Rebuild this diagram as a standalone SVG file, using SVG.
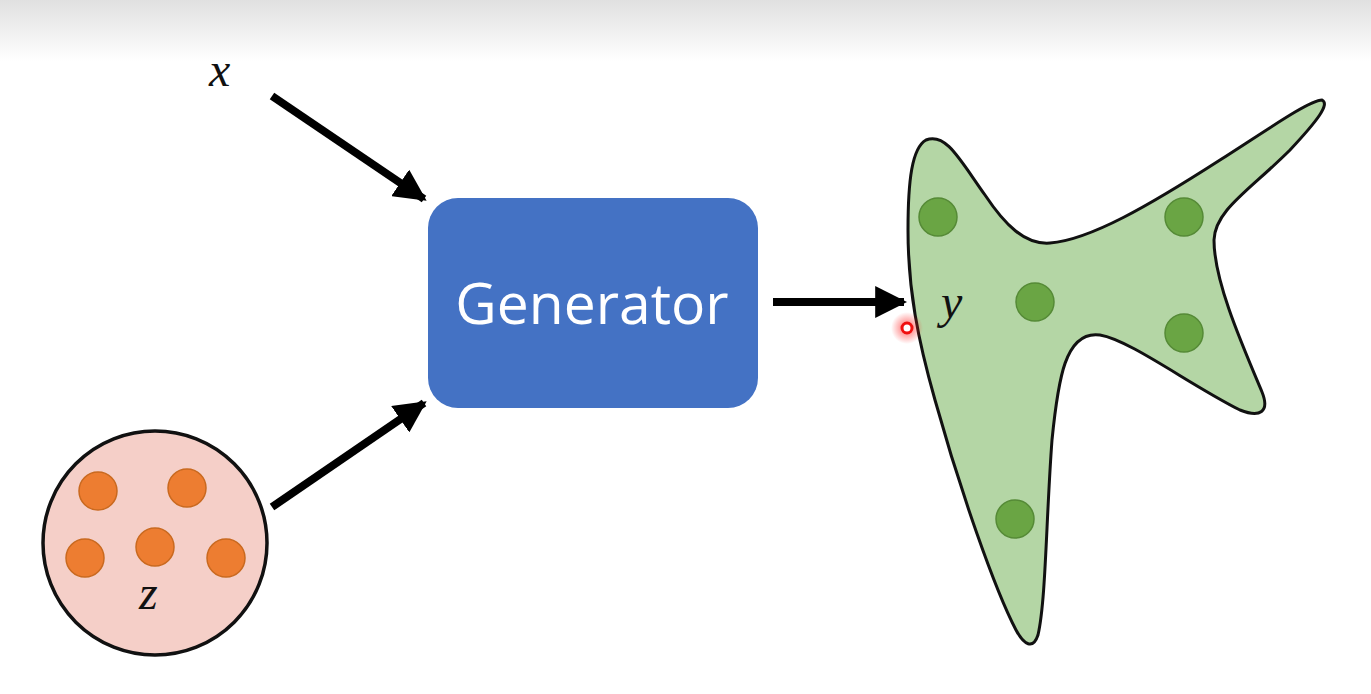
<svg xmlns="http://www.w3.org/2000/svg" width="1371" height="694" viewBox="0 0 1371 694">
<defs>
<linearGradient id="bg" x1="0" y1="0" x2="0" y2="1"><stop offset="0" stop-color="#e0e0e0"/><stop offset="1" stop-color="#ffffff"/></linearGradient>
<radialGradient id="glow"><stop offset="0" stop-color="#ff2020" stop-opacity="0.7"/><stop offset="1" stop-color="#ff2020" stop-opacity="0"/></radialGradient>
<marker id="ah" viewBox="0 0 10 10" refX="9" refY="5" markerWidth="4" markerHeight="4" orient="auto" markerUnits="strokeWidth"><path d="M0,0 L10,5 L0,10 z" fill="#000"/></marker>
<style>
.lbl{font-family:"Liberation Serif",serif;font-style:italic;font-size:48px;fill:#111}
.conn{stroke:#000;stroke-width:8;fill:none}
.od{fill:#ed7d31;stroke:#c9691f;stroke-width:1.5}
.gd{fill:#6aa544;stroke:#558a36;stroke-width:1.5}
</style>
</defs>
<rect width="1371" height="694" fill="#fff"/>
<rect width="1371" height="62" fill="url(#bg)"/>
<g id="connectors">
<line class="conn" x1="272" y1="96" x2="424" y2="199" marker-end="url(#ah)"/>
<line class="conn" x1="272" y1="507" x2="424" y2="403" marker-end="url(#ah)"/>
<line class="conn" x1="773" y1="302" x2="904" y2="302" marker-end="url(#ah)"/>
</g>
<g id="x-node"><text class="lbl" x="209" y="86">x</text></g>
<g id="generator">
<rect x="428" y="198" width="330" height="210" rx="30" fill="#4472c4"/>
<text x="592" y="324" text-anchor="middle" font-family="Open Sans, sans-serif" font-size="57" fill="#fff">Generator</text>
</g>
<g id="z-node">
<circle cx="155" cy="543" r="112" fill="#f5cfc8" stroke="#111" stroke-width="3.5"/>
<circle class="od" cx="98" cy="491" r="19"/>
<circle class="od" cx="187" cy="488" r="19"/>
<circle class="od" cx="85" cy="558" r="19"/>
<circle class="od" cx="155" cy="547" r="19"/>
<circle class="od" cx="226" cy="558" r="19"/>
<text class="lbl" x="139" y="609">z</text>
</g>
<g id="y-node">
<path d="M926,140 C946,132 960,160 985,195 C1005,225 1025,245 1050,243 C1090,240 1150,205 1220,160 C1270,128 1310,100 1322,100 C1330,104 1318,120 1290,150 C1250,190 1215,210 1214,240 C1214,280 1240,340 1262,392 C1270,412 1260,418 1240,410 C1190,385 1130,340 1100,335 C1065,330 1058,380 1052,440 C1046,520 1046,600 1038,635 C1033,650 1024,645 1016,630 C995,590 960,490 935,400 C918,340 908,290 908,230 C908,180 912,148 926,140 Z" fill="#b4d6a5" stroke="#111" stroke-width="3"/>
<circle class="gd" cx="938" cy="217" r="19"/>
<circle class="gd" cx="1184" cy="217" r="19"/>
<circle class="gd" cx="1035" cy="302" r="19"/>
<circle class="gd" cx="1184" cy="333" r="19"/>
<circle class="gd" cx="1015" cy="519" r="19"/>
<text class="lbl" x="941" y="318">y</text>
</g>
<g id="pointer">
<circle cx="907" cy="328" r="16" fill="url(#glow)"/>
<circle cx="907" cy="328" r="5" fill="#fff" stroke="#f01010" stroke-width="3"/>
</g>
</svg>
